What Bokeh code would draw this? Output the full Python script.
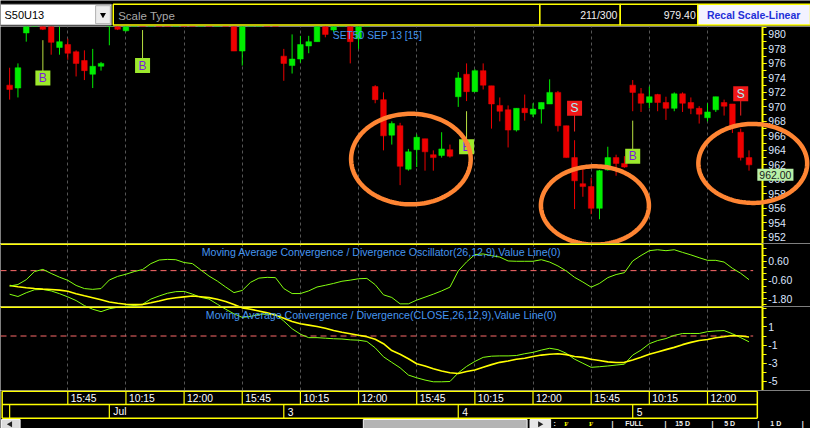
import numpy as np
from bokeh.plotting import figure
from bokeh.layouts import column
from bokeh.models import (ColumnDataSource, Range1d, FixedTicker, PrintfTickFormatter,
                          Label, Grid, PolyAnnotation, LinearAxis)
from bokeh.core.properties import value
from bokeh.embed import file_html
from bokeh.resources import INLINE

# ---------------- data ----------------
SYMBOL = "S50U13"
SCALE_TYPE = "Scale Type"
COUNT = "211/300"
LAST = "979.40"
RECAL = "Recal Scale-Linear"
INSTRUMENT = "SET50 SEP 13  [15]"
OSC_TITLE = "Moving Average Convergence / Divergence Oscillator(26,12,9),Value Line(0)"
MACD_TITLE = "Moving Average Convergence / Divergence(CLOSE,26,12,9),Value Line(0)"
PERIOD_BUTTONS = [":", "|", "FULL", "|", "15 D", "|", "5 D", "|", "1 D", "|"]

OPEN = [973.0, 972.6, 980.2, 981.5, 982.5, 981.5, 978.2, 978.6, 977.6, 976.4,
        974.5, 975.6, 981.3, 982.0, 980.5, 982.0, 983.0, 982.5, 984.0, 983.5,
        983.0, 984.2, 983.5, 982.5, 983.0, 982.2, 982.8, 981.8, 977.7, 981.6,
        982.5, 983.2, 982.6, 977.0, 975.7, 976.6, 978.4, 979.0, 981.5, 980.6,
        981.6, 981.5, 979.4, 981.5, 972.8, 971.0, 966.1, 967.4, 961.4, 964.1,
        965.6, 963.4, 963.3, 964.1, 971.4, 974.5, 972.1, 975.0, 972.9, 970.2,
        969.6, 966.8, 969.8, 969.0, 969.7, 970.4, 972.0, 967.4, 963.0, 959.4,
        959.0, 956.0, 961.3, 963.0, 962.2, 973.0, 971.8, 970.6, 971.7, 970.6,
        969.8, 971.8, 970.6, 969.8, 968.5, 969.6, 970.6, 970.4, 966.5, 963.0]
HIGH = [975.4, 976.0, 982.0, 983.0, 983.0, 982.0, 981.5, 979.4, 977.8, 977.8,
        978.0, 976.2, 983.0, 982.5, 982.5, 983.5, 984.0, 984.5, 985.0, 984.0,
        984.5, 985.0, 984.0, 983.5, 983.8, 983.0, 983.2, 982.5, 982.2, 983.0,
        983.5, 983.6, 983.0, 978.0, 980.0, 979.8, 979.8, 982.0, 982.0, 982.0,
        982.4, 982.0, 982.0, 982.5, 973.0, 972.0, 968.0, 967.8, 964.2, 966.2,
        965.6, 964.0, 966.5, 964.8, 974.8, 976.0, 975.2, 976.0, 972.9, 971.3,
        970.2, 969.8, 971.7, 970.5, 970.6, 973.8, 972.2, 967.4, 965.4, 961.8,
        960.2, 961.3, 964.5, 963.4, 963.2, 973.7, 972.6, 972.8, 971.8, 971.4,
        972.0, 972.0, 971.3, 970.1, 970.5, 971.4, 971.0, 970.4, 967.0, 964.0]
LOW = [971.0, 971.3, 979.0, 981.3, 980.6, 977.2, 977.2, 976.5, 974.2, 973.7,
       972.6, 975.0, 978.5, 980.6, 980.4, 981.5, 982.0, 982.2, 983.0, 982.5,
       982.8, 983.2, 982.0, 981.8, 982.0, 981.5, 981.3, 977.7, 975.7, 981.3,
       982.0, 982.2, 981.5, 973.6, 974.6, 976.1, 977.4, 979.0, 979.6, 980.3,
       981.3, 976.0, 978.0, 981.3, 970.5, 964.0, 964.8, 959.2, 961.2, 961.7,
       961.2, 961.2, 963.0, 963.0, 970.0, 970.8, 972.1, 972.4, 967.0, 968.0,
       964.4, 966.6, 968.1, 968.6, 967.7, 970.4, 966.6, 963.0, 955.9, 957.6,
       955.2, 954.5, 961.2, 960.5, 961.6, 969.4, 969.3, 969.8, 969.4, 968.2,
       969.4, 969.3, 969.0, 967.7, 968.0, 969.3, 968.8, 966.4, 962.6, 961.2]
CLOSE = [972.4, 975.4, 981.5, 982.5, 980.7, 978.9, 979.0, 977.4, 976.0, 975.0,
         975.6, 976.0, 982.5, 980.7, 982.0, 983.0, 982.5, 984.0, 983.5, 983.0,
         984.2, 983.5, 982.5, 983.0, 982.2, 982.8, 981.8, 977.7, 981.6, 982.5,
         983.2, 982.6, 981.8, 976.0, 976.6, 978.6, 979.0, 981.3, 980.0, 981.6,
         981.9, 979.0, 981.2, 982.0, 971.0, 966.0, 967.7, 961.8, 963.8, 965.8,
         963.8, 963.0, 964.2, 963.2, 974.0, 972.1, 975.0, 973.0, 970.4, 969.4,
         966.8, 969.8, 969.2, 969.7, 970.6, 972.0, 967.4, 963.0, 959.8, 959.0,
         956.0, 961.2, 963.0, 962.2, 961.7, 972.0, 970.5, 971.4, 970.6, 969.8,
         971.8, 970.5, 969.8, 969.0, 969.3, 971.4, 970.1, 967.2, 963.0, 962.0]

OSC = [-0.99, -0.89, -0.58, -0.06, 0.08, -0.18, -0.42, -0.62, -0.95, -1.15,
       -1.20, -1.15, -0.60, -0.37, -0.23, -0.06, 0.07, 0.45, 0.68, 0.72,
       0.70, 0.52, 0.45, 0.05, -0.35, -0.67, -1.05, -1.41, -1.27, -0.75,
       -0.48, -0.43, -0.45, -1.15, -1.47, -1.47, -1.30, -1.05, -0.94, -0.82,
       -0.68, -0.61, -0.52, -0.50, -0.90, -1.55, -1.72, -2.13, -2.13, -1.89,
       -1.70, -1.51, -1.30, -1.06, -0.02, 0.56, 1.03, 1.07, 0.96, 0.87,
       0.62, 0.60, 0.60, 0.60, 0.70, 0.55, 0.30, -0.02, -0.43, -0.73,
       -1.06, -0.82, -0.45, -0.25, -0.13, 0.62, 0.97, 1.28, 1.34, 1.28,
       1.34, 1.17, 1.01, 0.83, 0.66, 0.66, 0.55, 0.15, -0.17, -0.58]
MACD = [4.59, 4.34, 4.75, 5.08, 5.11, 4.95, 4.65, 4.30, 3.90, 3.35,
        2.95, 2.68, 3.00, 3.17, 3.28, 3.35, 3.50, 4.06, 4.40, 4.70,
        4.87, 4.90, 4.60, 4.25, 4.06, 3.50, 2.95, 2.45, 2.05, 2.15,
        2.40, 2.40, 2.40, 1.65, 0.80, 0.20, -0.18, -0.18, -0.24, -0.30,
        -0.33, -0.42, -0.46, -0.60, -1.30, -2.29, -2.90, -3.50, -4.30, -4.60,
        -4.85, -5.04, -5.04, -5.01, -4.06, -3.35, -2.80, -2.35, -2.22, -2.19,
        -2.19, -2.15, -1.95, -1.80, -1.55, -1.35, -1.50, -1.90, -2.55, -3.00,
        -3.45, -3.38, -3.30, -3.20, -3.10, -2.10, -1.55, -0.85, -0.50, -0.28,
        0.07, 0.28, 0.28, 0.28, 0.48, 0.56, 0.60, 0.25, -0.18, -0.64]
SIGNAL = [5.54, 5.40, 5.30, 5.22, 5.15, 5.10, 5.04, 4.92, 4.65, 4.42,
          4.20, 3.98, 3.75, 3.60, 3.50, 3.46, 3.46, 3.65, 3.85, 4.06,
          4.20, 4.30, 4.40, 4.32, 4.22, 4.05, 3.80, 3.46, 3.10, 2.95,
          2.75, 2.55, 2.30, 1.95, 1.60, 1.35, 1.20, 1.05, 0.85, 0.60,
          0.42, 0.25, 0.08, -0.07, -0.35, -0.85, -1.60, -2.00, -2.50, -3.05,
          -3.30, -3.60, -3.85, -4.05, -4.12, -3.90, -3.75, -3.45, -3.15, -2.90,
          -2.75, -2.55, -2.45, -2.25, -2.10, -2.00, -1.95, -2.05, -2.25, -2.35,
          -2.55, -2.70, -2.85, -2.92, -2.90, -2.65, -2.35, -2.00, -1.75, -1.50,
          -1.25, -0.95, -0.70, -0.50, -0.38, -0.20, -0.08, 0.05, 0.00, -0.11]

TIME_TICKS = [7, 14, 21, 28, 35, 42, 49, 56, 63, 70, 77, 84]
TIME_LABELS = ["15:45", "10:15", "12:00", "15:45", "10:15", "12:00",
               "15:45", "10:15", "12:00", "15:45", "10:15", "12:00"]
DAY_STARTS = [12, 33, 54, 75]
DAY_LABELS = ["Jul", "3", "4", "5"]

PRICE_TICKS = [952, 954, 956, 958, 960, 962, 964, 966, 968, 970, 972, 974, 976, 978, 980]
OSC_TICKS = [0.6, -0.6, -1.8]
OSC_MINOR = [1.4, 1.0, 0.6, 0.2, -0.2, -0.6, -1.0, -1.4, -1.8, -2.2]
MACD_TICKS = [1, -1, -3, -5]
MACD_MINOR = [3, 2, 1, 0, -1, -2, -3, -4, -5]

# buy / sell signal flags: bar, kind, flag price, far end of the flag stem
SIG_BAR = [4, 16, 55, 75, 68, 88]
SIG_KIND = ["B", "B", "B", "B", "S", "S"]
SIG_PRICE = [974.0, 975.7, 964.5, 963.2, 969.8, 971.8]
SIG_STEM = [979.2, 980.6, 969.4, 968.1, 966.6, 968.8]

# orange hand-drawn highlight ellipses: centre bar, centre price, width (bars), height (points)
HIGHLIGHTS = [(48.3, 962.8, 14.4, 12.5), (70.45, 956.4, 13.0, 10.8), (89.45, 962.2, 13.1, 10.9)]

# ---------------- layout constants ----------------
W = 810
H_HEAD, H_PRICE, H_OSC, H_MACD, H_AXIS = 26, 217, 63, 84, 38
YEL = "#ffff00"
LIME = "#84ff10"
LABEL_COL = "#dce6ff"
TITLE_COL = "#4596f0"
SANS = "Liberation Sans"

N = len(CLOSE)
bars = list(range(N))
x_range = Range1d(-1.1, N + 6.4)   # frame spans the full width; price scale sits at AXIS_X
AXIS_X = N + 0.6


def make_fig(h, xr, yr):
    p = figure(width=W, height=h, x_range=xr, y_range=yr, output_backend="svg",
               toolbar_location=None, x_axis_location=None, y_axis_location=None,
               min_border_left=0, min_border_right=0, min_border_top=0, min_border_bottom=0,
               background_fill_color="black", border_fill_color="black",
               outline_line_color=None)
    p.grid.visible = False
    return p


def add_scale(p, ticks, minor, fmt):
    ax = LinearAxis(fixed_location=AXIS_X,
                    ticker=FixedTicker(ticks=ticks, minor_ticks=minor),
                    formatter=PrintfTickFormatter(format=fmt))
    ax.axis_line_color = YEL
    ax.axis_line_width = 2
    ax.major_tick_line_color = YEL
    ax.minor_tick_line_color = YEL
    ax.major_tick_out = 4
    ax.major_tick_in = 0
    ax.minor_tick_out = 4
    ax.minor_tick_in = 0
    ax.major_label_text_color = LABEL_COL
    ax.major_label_text_font = SANS
    ax.major_label_text_font_size = "10.5px"
    ax.major_label_standoff = 2
    p.add_layout(ax, "right")


def vgrid(p):
    p.add_layout(Grid(dimension=0, ticker=FixedTicker(ticks=TIME_TICKS),
                      grid_line_color="#555555", grid_line_dash="3 3", grid_line_width=1))


def hline(p, y, color, width, dash="solid", x_end=AXIS_X):
    p.segment(x0=[x_range.start], y0=[y], x1=[x_end], y1=[y],
              line_color=color, line_width=width, line_dash=dash)


# ---------------- header ----------------
hd = make_fig(H_HEAD, Range1d(0, 826), Range1d(27.5, 0))
hd.quad(left=[0], right=[113], top=[4], bottom=[26], fill_color="white", line_color="#909090")
hd.quad(left=[97], right=[112], top=[5.5], bottom=[24.5], fill_color="#ececec", line_color="#b0b0b0")
hd.scatter(x=[104.5], y=[15], marker="inverted_triangle", size=6, fill_color="black", line_color=None)
hd.quad(left=[115, 550, 632], right=[550, 632, 711], top=[4, 4, 4], bottom=[26, 26, 26],
        fill_color="black", line_color=YEL, line_width=1.5)
hd.quad(left=[711], right=[826], top=[4], bottom=[26], fill_color="#f2f2ff", line_color=YEL, line_width=1.5)
hd.text(x=[4], y=[15.5], text=[SYMBOL], text_baseline="middle", text_color="black",
        text_font_size=value("11px"), text_font=value(SANS))
hd.text(x=[120], y=[16], text=[SCALE_TYPE], text_baseline="middle", text_color="#a8a8a8",
        text_font_size=value("11.5px"), text_font=value(SANS))
hd.text(x=[629, 709], y=[15.5, 15.5], text=[COUNT, LAST], text_align="right", text_baseline="middle",
        text_color="#f0f0f0", text_font_size=value("10.5px"), text_font=value(SANS))
hd.text(x=[768], y=[15.5], text=[RECAL], text_align="center", text_baseline="middle",
        text_color="#1f2fd8", text_font_size=value("10.5px"), text_font=value(SANS),
        text_font_style="bold")

# ---------------- price panel ----------------
pp = make_fig(H_PRICE, x_range, Range1d(951.15, 981.09))
vgrid(pp)
colors = ["#00ee00" if c >= o else "#ee0000" for o, c in zip(OPEN, CLOSE)]
src = ColumnDataSource(dict(x=bars, open=OPEN, high=HIGH, low=LOW, close=CLOSE,
                            top=[max(o, c) for o, c in zip(OPEN, CLOSE)],
                            bottom=[min(o, c) for o, c in zip(OPEN, CLOSE)], color=colors))
pp.segment(x0="x", y0="high", x1="x", y1="low", source=src, line_color="color", line_width=1)
pp.vbar(x="x", width=0.68, top="top", bottom="bottom", source=src,
        fill_color="color", line_color="color", line_width=0.5)

ssrc = ColumnDataSource(dict(
    x=SIG_BAR, y=SIG_PRICE, stem=SIG_STEM, kind=SIG_KIND,
    fill=["#9ce82c" if k == "B" else "#f01818" for k in SIG_KIND],
    tcol=["#7a1ce0" if k == "B" else "#a8f0f8" for k in SIG_KIND],
    scol=["#b8e040" if k == "B" else "#f02020" for k in SIG_KIND]))
pp.segment(x0="x", y0="y", x1="x", y1="stem", source=ssrc, line_color="scol", line_width=1)
pp.rect(x="x", y="y", width=15, height=15, width_units="screen", height_units="screen",
        source=ssrc, fill_color="fill", line_color=None)
pp.text(x="x", y="y", text="kind", source=ssrc, text_color="tcol", text_align="center",
        text_baseline="middle", text_font=value(SANS), text_font_size=value("12px"))

add_scale(pp, PRICE_TICKS, list(range(951, 982)), "%d")

pp.add_layout(Label(x=N, y=CLOSE[-1], text=f"{CLOSE[-1]:.2f}", text_baseline="top", y_offset=-4,
                    text_color="#1a1a1a", text_font=SANS, text_font_size="10.5px",
                    background_fill_color="#b8f0a8", background_fill_alpha=1.0, padding=2))

t = np.linspace(0, 2 * np.pi, 160)
for cx, cy, w, h in HIGHLIGHTS:
    pp.add_layout(PolyAnnotation(xs=list(cx + w / 2 * np.cos(t)), ys=list(cy + h / 2 * np.sin(t)),
                                 fill_color=None, fill_alpha=0, line_color="#ff8533",
                                 line_alpha=1.0, line_width=4.5))

pp.add_layout(Label(x=38.9, y=979.85, text=INSTRUMENT, text_color=TITLE_COL, text_font=SANS,
                    text_font_size="10.3px", text_baseline="middle"))

# ---------------- MACD oscillator panel ----------------
op = make_fig(H_OSC, x_range, Range1d(-2.30, 1.74))
op.extra_y_ranges = {"macd_hi": Range1d(3.25, 10.13)}
vgrid(op)
hline(op, 0, "#ff6b6b", 1, "6 4", x_end=N - 0.5)
op.line(bars, MACD, y_range_name="macd_hi", line_color=LIME, line_width=1)
op.line(bars, SIGNAL, y_range_name="macd_hi", line_color=YEL, line_width=1.6)
op.line(bars, OSC, line_color=LIME, line_width=1)
hline(op, op.y_range.end, YEL, 3)
op.add_layout(Label(x=(x_range.start + AXIS_X) / 2, y=1.22, text=OSC_TITLE, text_align="center",
                    text_baseline="middle", text_color=TITLE_COL, text_font=SANS, text_font_size="10.6px"))
add_scale(op, OSC_TICKS, OSC_MINOR, "%.2f")

# ---------------- MACD panel ----------------
mp = make_fig(H_MACD, x_range, Range1d(-6.0, 3.25))
vgrid(mp)
hline(mp, 0, "#ff6b6b", 1, "6 4", x_end=N - 0.5)
mp.line(bars, MACD, line_color=LIME, line_width=1)
mp.line(bars, SIGNAL, line_color=YEL, line_width=1.6)
hline(mp, mp.y_range.end, YEL, 3)
mp.add_layout(Label(x=(x_range.start + AXIS_X) / 2, y=2.36, text=MACD_TITLE, text_align="center",
                    text_baseline="middle", text_color=TITLE_COL, text_font=SANS, text_font_size="10.6px"))
add_scale(mp, MACD_TICKS, MACD_MINOR, "%d")

# ---------------- time / date axis rows + scroll strip ----------------
ax = make_fig(H_AXIS, x_range, Range1d(39.3, 0))
ax.extra_x_ranges = {"px": Range1d(0, 826)}
left_edge, right_edge = -0.9, N
ax.segment(x0=[left_edge] * 3, y0=[0.8, 14.6, 28.8], x1=[right_edge] * 3, y1=[0.8, 14.6, 28.8],
           line_color=YEL, line_width=1.5)
ax.segment(x0=[left_edge, right_edge], y0=[0.8, 0.8], x1=[left_edge, right_edge], y1=[28.8, 28.8],
           line_color=YEL, line_width=1.5)
ax.segment(x0=TIME_TICKS, y0=[0.8] * len(TIME_TICKS), x1=TIME_TICKS, y1=[14.6] * len(TIME_TICKS),
           line_color=YEL, line_width=1.2)
day_div = [0] + DAY_STARTS
ax.segment(x0=day_div, y0=[14.6] * len(day_div), x1=day_div, y1=[28.8] * len(day_div),
           line_color=YEL, line_width=1.2)
ax.text(x=TIME_TICKS, y=[8] * len(TIME_TICKS), text=TIME_LABELS, x_offset=3, text_baseline="middle",
        text_color="white", text_font=value(SANS), text_font_size=value("10.3px"))
ax.text(x=DAY_STARTS, y=[22] * len(DAY_STARTS), text=DAY_LABELS, x_offset=4, text_baseline="middle",
        text_color="white", text_font=value(SANS), text_font_size=value("10.3px"))

# scroll strip (screen-like pixel range of the toolbar row)
ax.quad(left=[1, 370, 540], right=[20, 537, 561], top=[30, 30, 30], bottom=[39.3, 39.3, 39.3],
        fill_color=["#dcdcdc", "#b4b4b4", "#e6e6e6"], line_color="#f4f4f4", x_range_name="px")
ax.scatter(x=[10, 550], y=[34.8, 34.8], marker="triangle", angle=[np.pi / 2, -np.pi / 2], size=6,
           fill_color="#202020", line_color=None, x_range_name="px")
ax.text(x=[575, 600], y=[34.6, 34.6], text=["F", "F"], text_baseline="middle", text_color=YEL,
        text_font=value("Liberation Serif"), text_font_size=value("7px"), text_font_style="bold",
        x_range_name="px")
ax.text(x=[564, 623, 637, 677, 688, 725, 738, 772, 785, 817], y=[34.6] * 10,
        text=PERIOD_BUTTONS, text_baseline="middle", x_range_name="px",
        text_color="#f0f0f0", text_font=value(SANS), text_font_size=value("7px"), text_font_style="bold")

layout = column(hd, pp, op, mp, ax, spacing=0)
open("out.html", "w").write(file_html(layout, INLINE))
